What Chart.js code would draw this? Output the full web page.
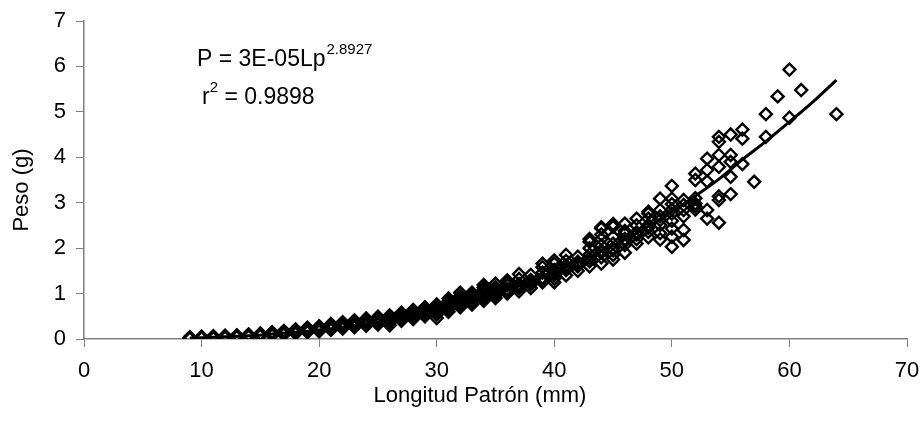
<!DOCTYPE html>
<html lang="es">
<head>
    <meta charset="UTF-8">
    <title>Peso vs Longitud Patrón</title>
    <script src="https://cdn.jsdelivr.net/npm/chart.js"></script>
    <style>
        body {
            margin: 0;
            padding: 0;
            background: #ffffff;
        }
        .chart-container {
            width: 924px;
            height: 439px;
        }
    </style>
</head>
<body>
    <div class="chart-container">
        <canvas id="pesoChart"></canvas>
    </div>

    <script>
        // Longitud patrón (mm) and the weights read at each length
        const longitudes = [9, 10, 11, 12, 13, 14, 15, 16, 17, 18, 19, 20, 21, 22, 23, 24, 25, 26, 27, 28, 29, 30,
            31, 32, 33, 34, 35, 36, 37, 38, 39, 40, 41, 42, 43, 44, 45, 46, 47, 48, 49, 50, 51, 52, 53, 54, 55,
            56, 57, 58, 59, 60, 61, 64];
        const pesos = [
            [0.01, 0.02, 0.03, 0.04],
            [0.02, 0.03, 0.04, 0.05],
            [0.02, 0.03, 0.04, 0.05, 0.06],
            [0.03, 0.04, 0.05, 0.06, 0.07],
            [0.04, 0.05, 0.06, 0.07, 0.08],
            [0.05, 0.06, 0.07, 0.08, 0.09, 0.10],
            [0.07, 0.08, 0.09, 0.10, 0.11, 0.12],
            [0.08, 0.10, 0.11, 0.12, 0.13, 0.15],
            [0.10, 0.12, 0.13, 0.14, 0.16, 0.18],
            [0.12, 0.14, 0.16, 0.17, 0.19, 0.21],
            [0.15, 0.17, 0.19, 0.21, 0.23, 0.25],
            [0.17, 0.19, 0.21, 0.23, 0.25, 0.28],
            [0.20, 0.22, 0.25, 0.27, 0.30, 0.33],
            [0.23, 0.26, 0.28, 0.31, 0.34, 0.37],
            [0.26, 0.29, 0.32, 0.35, 0.38, 0.41],
            [0.29, 0.32, 0.35, 0.38, 0.41, 0.45],
            [0.32, 0.36, 0.39, 0.42, 0.46, 0.49],
            [0.30, 0.37, 0.40, 0.44, 0.48, 0.52],
            [0.40, 0.44, 0.48, 0.52, 0.55, 0.58],
            [0.44, 0.48, 0.52, 0.56, 0.60, 0.64],
            [0.50, 0.54, 0.58, 0.62, 0.66, 0.70],
            [0.46, 0.54, 0.58, 0.62, 0.66, 0.70, 0.76],
            [0.60, 0.65, 0.70, 0.74, 0.78, 0.83, 0.89],
            [0.70, 0.75, 0.80, 0.85, 0.90, 0.95, 1.02],
            [0.76, 0.82, 0.88, 0.93, 0.97, 1.02],
            [0.84, 0.90, 0.96, 1.02, 1.08, 1.13, 1.19],
            [0.90, 0.96, 1.02, 1.08, 1.14, 1.22],
            [1.00, 1.06, 1.10, 1.18, 1.24, 1.29],
            [1.05, 1.12, 1.17, 1.21, 1.32, 1.43],
            [1.12, 1.20, 1.26, 1.30, 1.41],
            [1.25, 1.30, 1.35, 1.46, 1.58, 1.66],
            [1.25, 1.33, 1.41, 1.47, 1.52, 1.66, 1.73],
            [1.40, 1.52, 1.57, 1.62, 1.72, 1.85],
            [1.50, 1.60, 1.66, 1.70, 1.81],
            [1.60, 1.71, 1.78, 1.86, 2.00, 2.14, 2.20],
            [1.66, 1.80, 1.90, 1.95, 2.06, 2.20, 2.30, 2.43, 2.46],
            [1.75, 1.85, 1.95, 2.00, 2.10, 2.25, 2.47, 2.53],
            [1.90, 2.07, 2.15, 2.20, 2.32, 2.38, 2.54],
            [2.10, 2.20, 2.30, 2.35, 2.50, 2.65],
            [2.24, 2.36, 2.45, 2.51, 2.65, 2.76, 2.80],
            [2.19, 2.33, 2.51, 2.62, 2.70, 2.84, 3.09],
            [2.03, 2.25, 2.43, 2.60, 2.76, 2.85, 2.97, 3.09, 3.37],
            [2.18, 2.40, 2.70, 2.84, 2.95, 3.06],
            [2.85, 2.92, 2.98, 3.10, 3.50, 3.64],
            [2.65, 2.84, 3.47, 3.72, 3.97],
            [2.56, 3.06, 3.14, 3.79, 4.05, 4.34, 4.45],
            [3.19, 3.57, 3.90, 4.05, 4.50],
            [3.85, 4.41, 4.61],
            [3.46],
            [4.45, 4.95],
            [5.34],
            [4.87, 5.93],
            [5.48],
            [4.95]
        ];

        // Fitted curve
        const curvaLp = [9, 10, 12, 14, 16, 18, 20, 22, 24, 26, 28, 30, 32, 34, 36, 38, 40, 42, 44, 46, 48, 50,
            52, 54, 56, 58, 60, 62, 64];
        const curvaPeso = [0.02, 0.03, 0.05, 0.07, 0.11, 0.15, 0.20, 0.26, 0.33, 0.42, 0.52, 0.64, 0.77, 0.92,
            1.08, 1.26, 1.47, 1.69, 1.93, 2.19, 2.48, 2.80, 3.15, 3.52, 3.95, 4.35, 4.78, 5.22, 5.70];

        const xTicks = [0, 10, 20, 30, 40, 50, 60, 70];
        const yTicks = [0, 1, 2, 3, 4, 5, 6, 7];

        const puntos = [];
        longitudes.forEach((lp, i) => {
            pesos[i].forEach(p => puntos.push({ x: lp, y: p }));
        });
        const curva = curvaLp.map((lp, i) => ({ x: lp, y: curvaPeso[i] }));

        const fontName = '"Liberation Sans", Arial, sans-serif';
        const axisGray = '#808080';

        // Axis titles plus the equation and r² in the upper left
        const textosPlugin = {
            id: 'textos',
            afterDraw(chart) {
                const ctx = chart.ctx;
                ctx.save();
                ctx.fillStyle = '#000';

                // axis titles
                ctx.font = '22px ' + fontName;
                ctx.textAlign = 'center';
                ctx.textBaseline = 'middle';
                ctx.fillText('Longitud Patrón (mm)', 480, 396);
                ctx.save();
                ctx.translate(22, 190);
                ctx.rotate(-Math.PI / 2);
                ctx.fillText('Peso (g)', 0, 0);
                ctx.restore();

                // equation
                ctx.textAlign = 'left';
                ctx.textBaseline = 'alphabetic';
                ctx.font = '23px ' + fontName;
                let x = 197;
                const y1 = 66;
                const main = 'P = 3E-05Lp';
                ctx.fillText(main, x, y1);
                x += ctx.measureText(main).width;
                ctx.font = '15px ' + fontName;
                ctx.fillText('2.8927', x + 1, y1 - 12);

                ctx.font = '23px ' + fontName;
                const y2 = 104;
                let x2 = 202;
                ctx.fillText('r', x2, y2);
                x2 += ctx.measureText('r').width;
                ctx.font = '15px ' + fontName;
                ctx.fillText('2', x2, y2 - 12);
                x2 += ctx.measureText('2').width;
                ctx.font = '23px ' + fontName;
                ctx.fillText(' = 0.9898', x2, y2);
                ctx.restore();
            }
        };

        const ctx = document.getElementById('pesoChart').getContext('2d');
        new Chart(ctx, {
            type: 'scatter',
            data: {
                datasets: [
                    {
                        label: 'Curva',
                        type: 'line',
                        data: curva,
                        borderColor: '#000',
                        borderWidth: 3,
                        pointRadius: 0,
                        fill: false,
                        cubicInterpolationMode: 'monotone',
                        order: 0
                    },
                    {
                        label: 'Peso',
                        data: puntos,
                        pointStyle: 'rectRot',
                        pointRadius: 6,
                        pointBorderWidth: 2.4,
                        pointBorderColor: '#000',
                        pointBackgroundColor: 'rgba(0,0,0,0)',
                        order: 1
                    }
                ]
            },
            options: {
                responsive: true,
                maintainAspectRatio: false,
                animation: false,
                layout: {
                    padding: { left: 0, right: 17, top: 21, bottom: 0 }
                },
                plugins: {
                    legend: { display: false },
                    tooltip: { enabled: false }
                },
                scales: {
                    x: {
                        type: 'linear',
                        min: 0,
                        max: 70,
                        afterBuildTicks: scale => { scale.ticks = xTicks.map(v => ({ value: v })); },
                        afterFit: scale => {
                            scale.height = 100;
                            scale.paddingLeft = 0;
                            scale.paddingRight = 0;
                        },
                        grid: {
                            display: true,
                            drawOnChartArea: false,
                            drawTicks: true,
                            tickLength: 8,
                            color: axisGray
                        },
                        border: { color: axisGray, width: 1.5 },
                        ticks: {
                            color: '#000',
                            padding: 11,
                            font: { family: fontName, size: 22 }
                        }
                    },
                    y: {
                        min: 0,
                        max: 7,
                        afterBuildTicks: scale => { scale.ticks = yTicks.map(v => ({ value: v })); },
                        afterFit: scale => {
                            scale.width = 84;
                            scale.paddingTop = 0;
                            scale.paddingBottom = 0;
                        },
                        grid: {
                            display: true,
                            drawOnChartArea: false,
                            drawTicks: true,
                            tickLength: 8,
                            color: axisGray
                        },
                        border: { color: axisGray, width: 1.5 },
                        ticks: {
                            color: '#000',
                            padding: 10,
                            font: { family: fontName, size: 22 }
                        }
                    }
                }
            },
            plugins: [textosPlugin]
        });
    </script>
</body>
</html>
